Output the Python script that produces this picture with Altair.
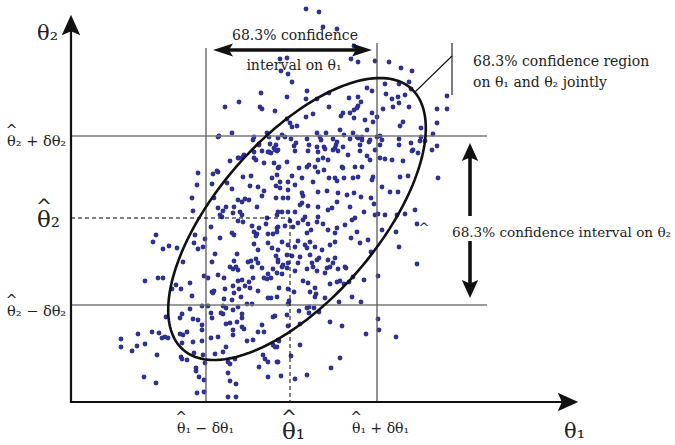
import altair as alt
import pandas as pd
import numpy as np

# ---- reading scale of the figure: where θ̂ sits and how wide δθ is ----
theta1_hat, dtheta1 = 290.0, 85.5
theta2_hat, dtheta2 = 218.0, 84.5

def T1(v):
    return (v - theta1_hat) / dtheta1

def T2(v):
    return (theta2_hat - v) / dtheta2

# ---- sample of (θ1, θ2) readings, by band of θ2 ----
pts_upper = [(306,9),(319,12),(323,27),(337,29),(354,46),(351,59),(358,62),(375,61),(389,62),(401,68),(412,71),
(280,59),(287,58),(281,71),(288,74),(292,82),(261,93),(239,102),(225,107),(260,107),(262,109),(275,111),
(287,97),(307,91),(306,99),(317,99),(329,93),(349,98),(358,97),(367,88),(372,91),(385,84),(399,84),(409,82),(411,89),
(386,94),(392,99),(398,97),(405,95),(447,96),(447,109),(437,109),(437,123),(421,128),(409,107),(399,103),(393,107),(383,109),
(372,113),(377,117),(365,120),(358,106),(354,110),(357,108),(361,102),(350,113),(354,118),(343,113),(341,116),(329,107),(313,114),(306,117),
(287,119),(290,123),(297,126),(292,127),(282,135),(254,137),(232,133),(219,136),(267,133),(269,137),(285,137),(317,133),(320,137),(326,133),
(340,130),(344,135),(353,133),(357,137),(362,137),(367,130),(377,137),(380,136),(373,122),(400,126),(403,122),(433,134),
(296,143),(294,146),(399,139),(411,143),(421,137),(437,146),(432,150),(425,141),(413,150),(399,145),(382,140),(380,145),(370,140),(360,145),(343,147),(336,145),(333,150),(324,147),(317,147),(309,145),
(270,144),(274,148),(259,145),(262,151),(269,152),(277,151),(244,155),(239,158),(254,152),
(278,138),(291,139),(307,139),(321,140),(333,139),(337,142),(350,139),(358,138),(362,140),(369,142),(420,141),
(275,150),(295,151),(308,151),(318,152),(325,149),(335,148),(338,151),(348,155),(360,151),(367,156),(370,160),(375,150),(380,158),(385,159),(392,160),(403,161),(412,151),(418,153),
(218,137),(253,140),(259,144),(268,152),(271,153),(276,145),(278,150),(254,158),(256,160),(238,158),(243,157),(230,161)]

pts_middle = [(264,163),(274,163),(287,162),(279,167),(299,168),(307,167),(309,165),(315,167),(318,160),(323,158),(328,160),(318,172),(324,170),(342,167),(343,168),(355,167),(362,167),(373,177),(372,180),(358,177),(353,178),(344,178),(335,178),(337,181),(329,178),(313,182),(302,178),(292,176),(288,182),(280,182),(280,188),(288,190),(295,185),(288,198),(283,198),(302,193),(303,196),(318,192),(327,191),(338,193),(347,195),(354,193),(361,197),(371,198),(382,187),(390,192),(398,192),(400,177),(408,176),(438,178),(374,204),(350,207),(337,202),(332,208),(328,210),(318,207),(308,206),(300,205),(302,203),(295,212),(288,212),(282,212),(277,215),
(217,171),(218,172),(213,174),(198,173),(197,185),(192,198),(193,211),(212,184),(227,183),(232,189),(243,177),(251,176),(250,186),(258,187),(264,191),(262,196),(272,178),(277,175),(276,186),(276,198),(278,168),(214,198),(218,208),(222,217),(220,215),(223,211),(226,207),(233,213),(234,207),(238,200),(242,202),(245,199),(249,200),(240,212),(242,215),(257,207),(278,212),
(364,212),(375,215),(378,214),(385,215),(397,215),(405,214),(415,210),(355,218),(352,220),
(278,227),(277,232),(285,226),(290,221),(293,227),(298,223),(303,220),(305,217),(308,224),(311,230),(307,233),(317,222),(318,217),(323,224),(328,230),(335,233),(337,228),(345,225),(357,232),(417,224),(382,230),(396,232),(351,238),(360,243),(368,240),(335,242),(330,245),(322,250),(315,247),(310,242),(305,245),(307,248),(298,241),(295,247),(288,245),(282,242),(278,250),(287,255),(292,256),(300,257),(310,255),(312,263),(317,260),(319,258),(328,260),(333,263),(335,258),(345,267),(371,252),(399,247),(417,264),(298,263),(288,263),(283,265),(278,262),
(243,222),(238,221),(267,218),(266,224),(252,226),(254,232),(257,234),(256,236),(259,228),(268,234),(273,234),(277,228),(211,227),(220,238),(232,233),(234,235),(205,239),(195,235),(194,243),(198,249),(203,247),(215,254),(212,262),(237,254),(234,261),(230,267),(236,267),(248,262),(251,261),(256,259),(258,263),(252,267),(258,250),(254,244),(268,243),(272,248),(276,256),(278,260),(156,235),(153,242),(163,249),(169,246),(177,248),(183,262)]

pts_lower = [(233,269),(238,270),(262,268),(273,269),(268,274),(264,278),(267,279),(271,278),(277,273),(253,278),(249,282),(245,286),(250,288),(242,280),(238,281),(239,289),(233,286),(224,278),(218,275),(208,278),(204,276),(190,283),(192,296),(181,289),(176,285),(172,289),(163,278),(158,278),(145,281),(212,292),(214,291),(225,289),(234,293),(241,297),(232,300),(224,299),(258,291),(268,298),(271,298),(213,293),
(282,267),(287,268),(295,271),(307,269),(313,267),(317,271),(327,268),(330,267),(338,269),(346,268),(325,273),(282,274),(353,277),(364,280),(378,276),(337,282),(340,281),(330,284),(344,284),(349,282),(303,281),(308,283),(279,288),(288,289),(294,292),(310,292),(315,288),(316,294),(315,297),(325,298),(339,302),(352,297),(361,302),(277,297),(289,301),(288,304),
(223,306),(226,308),(223,314),(221,313),(233,310),(238,307),(242,314),(242,318),(247,304),(252,304),(273,317),(262,325),(258,332),(264,332),(253,340),(247,341),(242,327),(244,329),(237,322),(230,323),(226,324),(233,330),(233,335),(226,347),(223,352),(218,337),(211,338),(212,318),(211,313),(202,325),(202,330),(198,320),(193,319),(190,309),(202,306),(208,306),(182,314),(180,318),(166,317),(187,332),(183,335),(180,334),(182,343),(193,342),(202,341),(168,338),(165,337),(162,338),(152,332),(159,333),(138,334),(145,344),(137,346),(132,351),(121,339),(121,347),(157,355),(181,357),(182,359),(187,360),(194,353),(203,355),(205,363),(215,354),(228,362),(230,364),(235,359),(228,373),(230,381),(236,384),(196,368),(196,371),(199,377),(204,380),(204,392),(197,393),(228,397),(236,397),(144,377),(156,383),(259,367),(263,355),(265,359),(268,362),(268,377),(273,345),(277,347),(277,362),(278,340),
(299,311),(307,308),(309,307),(314,308),(309,313),(319,312),(287,315),(275,316),(288,326),(300,324),(330,322),(342,326),(366,334),(378,319),(379,330),(396,337),(279,341),(275,347),(300,345),(291,356),(278,362),(340,358),(331,368),(307,375),(295,379),(281,376)]

# ---- confidence ellipse: centre and conjugate semi-diameters (reading units) ----
ell_center = (297.0, 219.0)
ell_u = (98.5, 0.0)
ell_v = (83.0, -141.0)

W, H = 675, 445
XD = [T1(0), T1(W)]
YD = [T2(H), T2(0)]
xs = alt.Scale(domain=XD, range=[0, W], nice=False, zero=False)
ys = alt.Scale(domain=YD, range=[H, 0], nice=False, zero=False)

def enc(**kw):
    d = dict(x=alt.X("x:Q", scale=xs, axis=None), y=alt.Y("y:Q", scale=ys, axis=None))
    d.update(kw)
    return d

allpts = pts_upper + pts_middle + pts_lower
pdf = pd.DataFrame({"x": [T1(a) for a, b in allpts], "y": [T2(b) for a, b in allpts]})
points = alt.Chart(pdf).mark_circle(size=24, color="#2E3192", opacity=1).encode(**enc())

def segs(lst):
    return pd.DataFrame({"x": [T1(a[0]) for a in lst], "y": [T2(a[1]) for a in lst],
                         "x2": [T1(a[2]) for a in lst], "y2": [T2(a[3]) for a in lst]})

def rule_layer(lst, **mk):
    return alt.Chart(segs(lst)).mark_rule(**mk).encode(**enc(x2="x2:Q", y2="y2:Q"))

grey_h = rule_layer([(71, 136, 487, 136), (71, 305, 487, 305)], color="#7a7a7a", strokeWidth=1.6)
grey_v = rule_layer([(206, 48, 206, 402), (377, 43, 377, 402)], color="#5a5a5a", strokeWidth=1.3)
dashed = rule_layer([(71, 218, 290, 218), (290, 218, 290, 402)], color="#000000", strokeWidth=1, strokeDash=[4, 3])
axes = rule_layer([(71, 30, 71, 403), (70, 402, 565, 402)], color="#111111", strokeWidth=2.2)
shafts = rule_layer([(222, 50, 364, 50), (470, 152, 470, 216), (470, 241, 470, 290)], color="#111111", strokeWidth=3.6)
leader = rule_layer([(415, 92, 452, 56), (452, 43, 452, 95)], color="#111111", strokeWidth=1.1)

t = np.linspace(0, 2 * np.pi, 181)
ex = ell_center[0] + ell_u[0] * np.cos(t) + ell_v[0] * np.sin(t)
ey = ell_center[1] + ell_u[1] * np.cos(t) + ell_v[1] * np.sin(t)
edf = pd.DataFrame({"x": T1(ex), "y": T2(ey), "o": np.arange(len(t))})
ellipse = alt.Chart(edf).mark_line(color="#111111", strokeWidth=2.6).encode(**enc(order="o:Q"))

UP = "M0,-1 L0.9,1 L0,0.6 L-0.9,1 Z"
DOWN = "M0,1 L0.9,-1 L0,-0.6 L-0.9,-1 Z"
RIGHT = "M1,0 L-1,0.9 L-0.6,0 L-1,-0.9 Z"
LEFT = "M-1,0 L1,0.65 L0.6,0 L1,-0.65 Z"
RIGHT2 = "M1,0 L-1,0.65 L-0.6,0 L-1,-0.65 Z"
heads = pd.DataFrame({
    "x": [T1(71), T1(568), T1(223), T1(362), T1(470), T1(470)],
    "y": [T2(25), T2(402), T2(50), T2(50), T2(152), T2(289)],
    "shape": [UP, RIGHT, LEFT, RIGHT2, UP, DOWN],
    "size": [420, 420, 400, 400, 330, 330],
})
arrowheads = alt.Chart(heads).mark_point(filled=True, color="#111111", opacity=1, strokeWidth=0).encode(
    **enc(shape=alt.Shape("shape:N", scale=None), size=alt.Size("size:Q", scale=None)))

FONT = "DejaVu Serif"
th = "\u03b8"
s1, s2 = "\u2081", "\u2082"

sym = pd.DataFrame({
    "x": [T1(37), T1(7), T1(37), T1(7), T1(177), T1(282), T1(352), T1(564)],
    "y": [T2(40), T2(146), T2(227), T2(316), T2(433), T2(439), T2(433), T2(438)],
    "text": [th + s2, th + s2 + " + \u03b4" + th + s2, th + s2, th + s2 + " \u2212 \u03b4" + th + s2,
             th + s1 + " \u2212 \u03b4" + th + s1, th + s1, th + s1 + " + \u03b4" + th + s1, th + s1],
    "size": [21, 14.5, 23, 14.5, 14, 23, 14, 21],
})
symtext = alt.Chart(sym).mark_text(font=FONT, align="left", baseline="alphabetic", color="#222222").encode(
    **enc(text="text:N", size=alt.Size("size:Q", scale=None)))

hats = pd.DataFrame({
    "x": [T1(11.5), T1(44), T1(11.5), T1(181), T1(289), T1(356), T1(424)],
    "y": [T2(135), T2(213), T2(305), T2(422), T2(424), T2(422), T2(232)],
    "size": [14, 19, 14, 14, 19, 14, 13],
})
hattext = alt.Chart(hats).mark_text(font="DejaVu Sans", align="center", baseline="alphabetic", color="#222222",
                                    text="^").encode(**enc(size=alt.Size("size:Q", scale=None)))

c_text = pd.DataFrame({
    "x": [T1(295), T1(294)],
    "y": [T2(40), T2(70)],
    "text": ["68.3% confidence", "interval on " + th + s1],
    "size": [14, 14],
})
ctext = alt.Chart(c_text).mark_text(font=FONT, align="center", baseline="alphabetic", color="#222222").encode(
    **enc(text="text:N", size=alt.Size("size:Q", scale=None)))

l_text = pd.DataFrame({
    "x": [T1(473), T1(473), T1(452)],
    "y": [T2(66), T2(87), T2(237)],
    "text": ["68.3% confidence region", "on " + th + s1 + " and " + th + s2 + " jointly",
             "68.3% confidence interval on " + th + s2],
    "size": [14, 14, 13.6],
})
ltext = alt.Chart(l_text).mark_text(font=FONT, align="left", baseline="alphabetic", color="#222222").encode(
    **enc(text="text:N", size=alt.Size("size:Q", scale=None)))

chart = alt.layer(points, grey_h, grey_v, dashed, axes, shafts, leader, ellipse, arrowheads,
                  symtext, hattext, ctext, ltext).properties(
    width=W, height=H, padding=0, autosize=alt.AutoSizeParams(type="none"), background="white"
).configure_view(stroke=None)

chart.save("out.html", embed_options={"renderer": "svg", "actions": False})
